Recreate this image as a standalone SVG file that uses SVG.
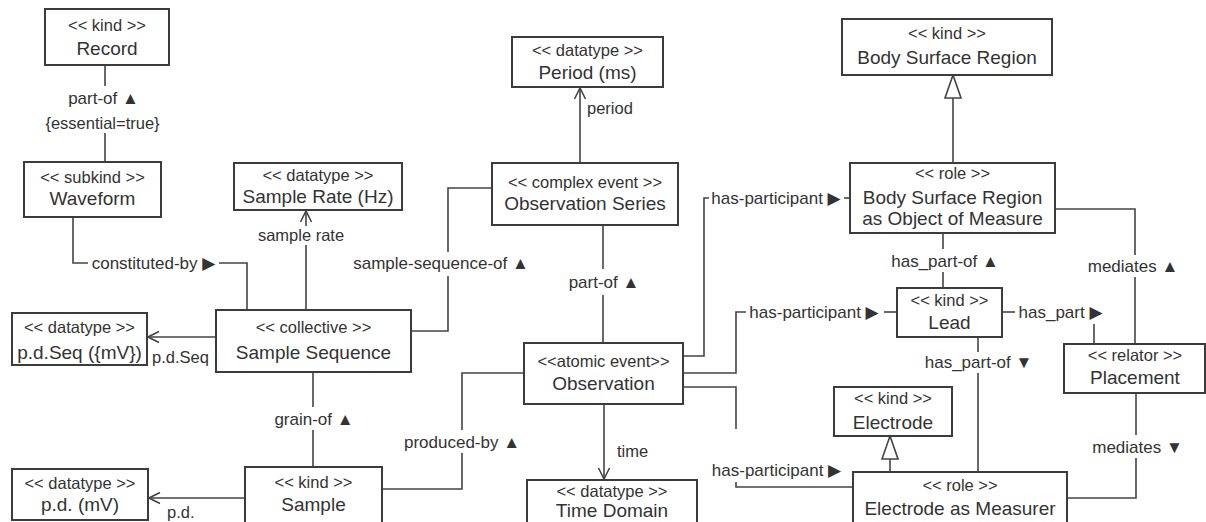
<svg xmlns="http://www.w3.org/2000/svg" width="1206" height="522" viewBox="0 0 1206 522">
  <style>
    .box { fill: #ffffff; stroke: #3c3c3c; stroke-width: 2; }
    .ln { fill: none; stroke: #444444; stroke-width: 1.6; }
    text { font-family: "Liberation Sans", "DejaVu Sans", Arial, sans-serif; fill: #333333; }
    .st { font-size: 16.5px; text-anchor: middle; }
    .nm { font-size: 19px; text-anchor: middle; }
    .lb { font-size: 17px; text-anchor: middle; }
    .at { font-size: 16.5px; }
    .gen { fill: #ffffff; stroke: #444444; stroke-width: 1.6; }
  </style>
  <defs>
    <marker id="open" markerUnits="userSpaceOnUse" markerWidth="14" markerHeight="14" viewBox="0 0 14 14" refX="13" refY="7" orient="auto">
      <path d="M2,1.5 L13,7 L2,12.5" fill="none" stroke="#444444" stroke-width="1.6"/>
    </marker>
  </defs>
  <rect width="1206" height="522" fill="#ffffff"/>

  <!-- connectors -->
  <g id="connectors">
    <!-- Record / Waveform -->
    <line class="ln" x1="105" y1="65" x2="105" y2="86"/>
    <line class="ln" x1="105" y1="133" x2="105" y2="162"/>
    <text class="lb" x="103.5" y="104">part-of ▲</text>
    <text class="at" x="102.5" y="129" text-anchor="middle">{essential=true}</text>

    <!-- Waveform / Sample Sequence -->
    <polyline class="ln" points="73,217 73,263 88,263"/>
    <polyline class="ln" points="219,263 247,263 247,310"/>
    <text class="lb" x="153.5" y="269">constituted-by ▶</text>

    <!-- Sample Sequence -> Sample Rate -->
    <line class="ln" x1="306" y1="310" x2="306" y2="245"/>
    <line class="ln" x1="306" y1="226" x2="306" y2="211" marker-end="url(#open)"/>
    <text class="at" x="301" y="241" text-anchor="middle">sample rate</text>

    <!-- Sample Sequence -> p.d.Seq -->
    <line class="ln" x1="216" y1="337" x2="148" y2="337" marker-end="url(#open)"/>
    <text class="at" x="180.5" y="363" text-anchor="middle">p.d.Seq</text>

    <!-- Sample Sequence / Observation Series -->
    <polyline class="ln" points="411,331 448,331 448,276"/>
    <polyline class="ln" points="448,252 448,188 492,188"/>
    <text class="lb" x="441" y="269">sample-sequence-of ▲</text>

    <!-- Observation Series -> Period -->
    <line class="ln" x1="580" y1="163" x2="580" y2="88" marker-end="url(#open)"/>
    <text class="at" x="587" y="114" font-size="17">period</text>

    <!-- Sample Sequence / Sample -->
    <line class="ln" x1="313" y1="372" x2="313" y2="407"/>
    <line class="ln" x1="313" y1="430" x2="313" y2="467"/>
    <text class="lb" x="314" y="425">grain-of ▲</text>

    <!-- Sample -> p.d. -->
    <line class="ln" x1="245" y1="498" x2="149" y2="498" marker-end="url(#open)"/>
    <text class="at" x="167" y="518">p.d.</text>

    <!-- Sample / Observation -->
    <polyline class="ln" points="382,489 462,489 462,453"/>
    <polyline class="ln" points="462,430 462,373 524,373"/>
    <text class="lb" x="462" y="448">produced-by ▲</text>

    <!-- Observation / Observation Series -->
    <line class="ln" x1="603" y1="343" x2="603" y2="295"/>
    <line class="ln" x1="603" y1="269" x2="603" y2="225"/>
    <text class="lb" x="604" y="288">part-of ▲</text>

    <!-- Observation -> Time Domain -->
    <line class="ln" x1="604" y1="404" x2="604" y2="479" marker-end="url(#open)"/>
    <text class="at" x="617" y="457" font-size="17">time</text>

    <!-- Observation / Body Surface Region as Object of Measure -->
    <polyline class="ln" points="683,356 704,356 704,198 709,198"/>
    <line class="ln" x1="844" y1="198" x2="850" y2="198"/>
    <text class="lb" x="776" y="204">has-participant ▶</text>

    <!-- Observation / Lead -->
    <polyline class="ln" points="683,373 736,373 736,312 746,312"/>
    <line class="ln" x1="884" y1="312" x2="897" y2="312"/>
    <text class="lb" x="814" y="318">has-participant ▶</text>

    <!-- Observation / Electrode as Measurer -->
    <polyline class="ln" points="683,387 736,387 736,429"/>
    <polyline class="ln" points="736,482 736,487 853,487"/>
    <text class="lb" x="776.5" y="476">has-participant ▶</text>

    <!-- Body Surface Region as Object of Measure specializes Body Surface Region -->
    <line class="ln" x1="953" y1="163" x2="953" y2="98"/>
    <polygon class="gen" points="953,75 945,98 961,98"/>

    <!-- Body Surface Region as Object of Measure / Lead -->
    <line class="ln" x1="943" y1="233" x2="943" y2="249"/>
    <line class="ln" x1="943" y1="272" x2="943" y2="288"/>
    <text class="lb" x="945" y="267">has_part-of ▲</text>

    <!-- Lead / Placement -->
    <line class="ln" x1="1002" y1="312" x2="1015" y2="312"/>
    <line class="ln" x1="1094" y1="324" x2="1094" y2="344"/>
    <text class="lb" x="1060.5" y="318">has_part ▶</text>

    <!-- Body Surface Region as Object of Measure / Placement -->
    <polyline class="ln" points="1055,209 1135,209 1135,255"/>
    <line class="ln" x1="1135" y1="277" x2="1135" y2="344"/>
    <text class="lb" x="1133" y="272">mediates ▲</text>

    <!-- Lead / Electrode as Measurer -->
    <line class="ln" x1="978" y1="337" x2="978" y2="352"/>
    <line class="ln" x1="978" y1="373" x2="978" y2="472"/>
    <text class="lb" x="978.5" y="368">has_part-of ▼</text>

    <!-- Placement / Electrode as Measurer -->
    <line class="ln" x1="1136" y1="393" x2="1136" y2="435"/>
    <polyline class="ln" points="1136,458 1136,498 1067,498"/>
    <text class="lb" x="1137.5" y="453">mediates ▼</text>

    <!-- Electrode as Measurer specializes Electrode -->
    <line class="ln" x1="890" y1="472" x2="890" y2="459"/>
    <polygon class="gen" points="890,436 882,459 898,459"/>
  </g>

  <!-- nodes -->
  <g id="record">
    <rect class="box" x="45" y="9" width="124" height="56"/>
    <text class="st" x="107" y="31">&lt;&lt; kind &gt;&gt;</text>
    <text class="nm" x="107" y="55">Record</text>
  </g>
  <g id="waveform">
    <rect class="box" x="24" y="162" width="137" height="55"/>
    <text class="st" x="92.5" y="183">&lt;&lt; subkind &gt;&gt;</text>
    <text class="nm" x="92.5" y="205">Waveform</text>
  </g>
  <g id="sample-rate">
    <rect class="box" x="234" y="163" width="168" height="47"/>
    <text class="st" x="318" y="181">&lt;&lt; datatype &gt;&gt;</text>
    <text class="nm" x="318" y="203">Sample Rate (Hz)</text>
  </g>
  <g id="period">
    <rect class="box" x="512" y="37" width="151" height="50"/>
    <text class="st" x="587.5" y="56">&lt;&lt; datatype &gt;&gt;</text>
    <text class="nm" x="587.5" y="79">Period (ms)</text>
  </g>
  <g id="observation-series">
    <rect class="box" x="492" y="163" width="186" height="62"/>
    <text class="st" x="585" y="188">&lt;&lt; complex event &gt;&gt;</text>
    <text class="nm" x="585" y="210">Observation Series</text>
  </g>
  <g id="body-surface-region">
    <rect class="box" x="842" y="19" width="210" height="56"/>
    <text class="st" x="947" y="39">&lt;&lt; kind &gt;&gt;</text>
    <text class="nm" x="947" y="64">Body Surface Region</text>
  </g>
  <g id="body-surface-region-role">
    <rect class="box" x="850" y="163" width="205" height="70"/>
    <text class="st" x="952.5" y="179">&lt;&lt; role &gt;&gt;</text>
    <text class="nm" x="952.5" y="204">Body Surface Region</text>
    <text class="nm" x="952.5" y="225">as Object of Measure</text>
  </g>
  <g id="sample-sequence">
    <rect class="box" x="216" y="310" width="195" height="62"/>
    <text class="st" x="313.5" y="333">&lt;&lt; collective &gt;&gt;</text>
    <text class="nm" x="313.5" y="359">Sample Sequence</text>
  </g>
  <g id="pd-seq">
    <rect class="box" x="12" y="313" width="135" height="52"/>
    <text class="st" x="79.5" y="333">&lt;&lt; datatype &gt;&gt;</text>
    <text class="nm" x="79.5" y="359">p.d.Seq ({mV})</text>
  </g>
  <g id="observation">
    <rect class="box" x="524" y="343" width="159" height="61"/>
    <text class="st" x="603.5" y="367">&lt;&lt;atomic event&gt;&gt;</text>
    <text class="nm" x="603.5" y="390">Observation</text>
  </g>
  <g id="lead">
    <rect class="box" x="897" y="288" width="105" height="49"/>
    <text class="st" x="949.5" y="306">&lt;&lt; kind &gt;&gt;</text>
    <text class="nm" x="949.5" y="329">Lead</text>
  </g>
  <g id="placement">
    <rect class="box" x="1064" y="344" width="141" height="49"/>
    <text class="st" x="1135" y="361">&lt;&lt; relator &gt;&gt;</text>
    <text class="nm" x="1135" y="384">Placement</text>
  </g>
  <g id="electrode">
    <rect class="box" x="834" y="387" width="118" height="49"/>
    <text class="st" x="893" y="404">&lt;&lt; kind &gt;&gt;</text>
    <text class="nm" x="893" y="429">Electrode</text>
  </g>
  <g id="sample">
    <rect class="box" x="245" y="467" width="137" height="70"/>
    <text class="st" x="313.5" y="488">&lt;&lt; kind &gt;&gt;</text>
    <text class="nm" x="313.5" y="511">Sample</text>
  </g>
  <g id="pd-mv">
    <rect class="box" x="12" y="469" width="136" height="51"/>
    <text class="st" x="80" y="489">&lt;&lt; datatype &gt;&gt;</text>
    <text class="nm" x="80" y="511">p.d. (mV)</text>
  </g>
  <g id="time-domain">
    <rect class="box" x="527" y="480" width="170" height="60"/>
    <text class="st" x="612" y="497">&lt;&lt; datatype &gt;&gt;</text>
    <text class="nm" x="612" y="517">Time Domain</text>
  </g>
  <g id="electrode-as-measurer">
    <rect class="box" x="853" y="472" width="214" height="70"/>
    <text class="st" x="960" y="491">&lt;&lt; role &gt;&gt;</text>
    <text class="nm" x="960" y="515">Electrode as Measurer</text>
  </g>
</svg>
